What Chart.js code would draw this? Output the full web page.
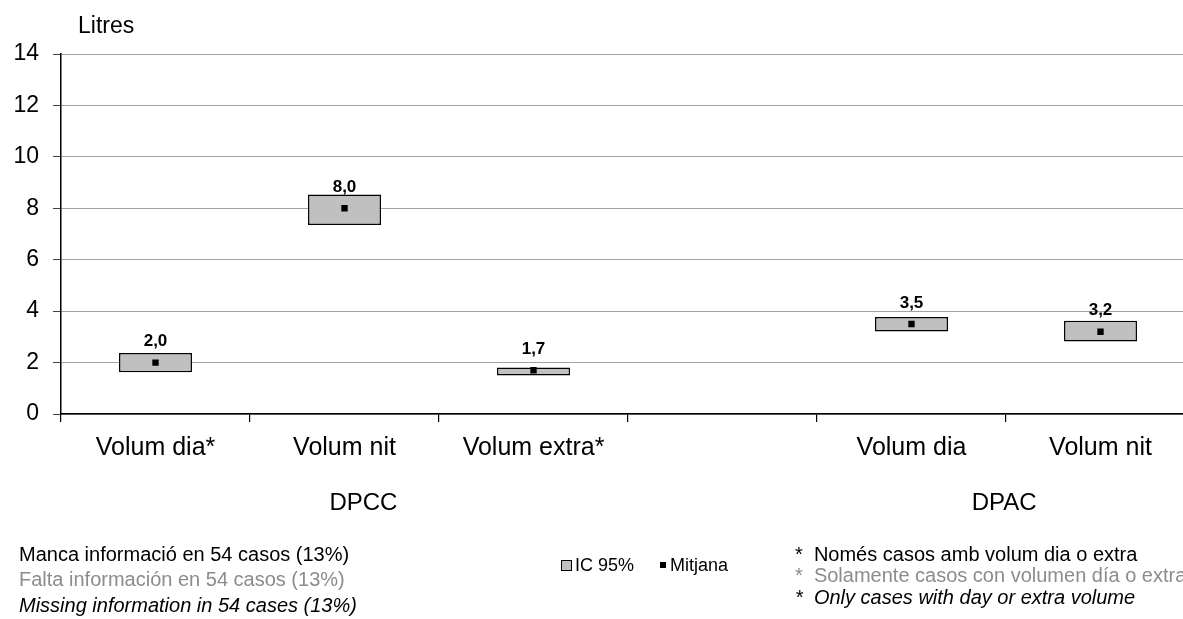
<!DOCTYPE html>
<html>
<head>
<meta charset="utf-8">
<script src="https://cdn.jsdelivr.net/npm/chart.js@4.4.1/dist/chart.umd.min.js"></script>
<style>
  html, body { margin: 0; padding: 0; background: #fff; overflow: hidden; }
  body { width: 1183px; height: 619px; position: relative; font-family: Arial, "Liberation Sans", sans-serif; }
  #wrap { position: absolute; left: 0; top: 0; width: 1200px; height: 619px; }
  .foot { position: absolute; font-size: 20px; white-space: nowrap; line-height: 22px; }
  .grey { color: #8c8c8c; }
  .it { font-style: italic; }
  .leg { font-size: 18px; }
  .icBox { display: inline-block; width: 9px; height: 9px; background: #c0c0c0; border: 1px solid #000; margin-right: 3px; vertical-align: 0px; }
  .meanBox { display: inline-block; width: 6px; height: 6px; background: #000; margin-right: 4px; vertical-align: 3px; }
</style>
</head>
<body>
<div id="wrap"><canvas id="chartCanvas" width="1200" height="619"></canvas></div>

<div class="foot" style="left:19px; top:543px;">Manca informació en 54 casos (13%)</div>
<div class="foot grey" style="left:19px; top:568px;">Falta información en 54 casos (13%)</div>
<div class="foot it" style="left:19px; top:594px;">Missing information in 54 cases (13%)</div>

<div class="foot leg" style="left:561px; top:554px;"><span class="icBox"></span>IC 95%</div>
<div class="foot leg" style="left:660px; top:554px;"><span class="meanBox"></span>Mitjana</div>

<div class="foot" style="left:795px; top:543px;">*&nbsp; Només casos amb volum dia o extra</div>
<div class="foot grey" style="left:795px; top:564px;">*&nbsp; Solamente casos con volumen día o extra</div>
<div class="foot it" style="left:795px; top:586px;">*&nbsp; Only cases with day or extra volume</div>

<script>
// Categories (4th slot is an empty gap between the two groups)
const categories = ['Volum dia*', 'Volum nit', 'Volum extra*', '', 'Volum dia', 'Volum nit'];

// Mean values and 95% confidence intervals (litres)
const means  = [2.0, 8.0, 1.7, null, 3.5, 3.2];
const ciLow  = [1.62, 7.35, 1.50, null, 3.21, 2.82];
const ciHigh = [2.37, 8.54, 1.81, null, 3.77, 3.63];

// Group labels and where they sit along the category axis
const groupNames = ['DPCC', 'DPAC'];
const groupPos = [1.1, 4.49];

const yTicks = [0, 2, 4, 6, 8, 10, 12, 14];

const FONT = 'Arial, "Liberation Sans", sans-serif';

// Draws "Litres", the value labels and the group names
const extraText = {
  id: 'extraText',
  afterDatasetsDraw(chart) {
    const ctx = chart.ctx;
    const x = chart.scales.x;
    const y = chart.scales.y;
    ctx.save();
    ctx.fillStyle = '#000';

    ctx.font = '23px ' + FONT;
    ctx.textAlign = 'left';
    ctx.textBaseline = 'middle';
    ctx.fillText('Litres', 78, 27);

    ctx.font = 'bold 17px ' + FONT;
    ctx.textAlign = 'center';
    ctx.textBaseline = 'middle';
    means.forEach((m, i) => {
      if (m === null) return;
      ctx.fillText(m.toFixed(1).replace('.', ','), x.getPixelForValue(i), y.getPixelForValue(m) - 21);
    });

    ctx.font = '24px ' + FONT;
    groupNames.forEach((g, i) => {
      ctx.fillText(g, x.getPixelForValue(groupPos[i]), 503);
    });
    ctx.restore();
  }
};

const ctx = document.getElementById('chartCanvas').getContext('2d');
new Chart(ctx, {
  data: {
    labels: categories,
    datasets: [
      {
        type: 'line',
        label: 'Mitjana',
        data: means,
        showLine: false,
        pointStyle: 'rect',
        pointRadius: 4.5,
        pointBorderWidth: 0,
        pointBackgroundColor: '#000',
        borderColor: '#000',
        order: 0
      },
      {
        type: 'bar',
        label: 'IC 95%',
        data: ciLow.map((lo, i) => lo === null ? null : [lo, ciHigh[i]]),
        backgroundColor: '#c0c0c0',
        borderColor: '#000',
        borderWidth: 1.5,
        borderSkipped: false,
        barPercentage: 0.386,
        categoryPercentage: 1,
        order: 1
      }
    ]
  },
  options: {
    responsive: false,
    animation: false,
    layout: { padding: { left: 0, right: 5, top: 54, bottom: 0 } },
    plugins: {
      legend: { display: false },
      tooltip: { enabled: false }
    },
    scales: {
      x: {
        type: 'category',
        offset: true,
        afterFit(scale) { scale.height = 205; },
        grid: {
          offset: true,
          drawOnChartArea: false,
          drawTicks: true,
          tickLength: 8,
          color: '#000',
          lineWidth: 1.2
        },
        border: { display: true, color: '#000', width: 1.5 },
        ticks: {
          color: '#000',
          font: { family: FONT, size: 25 },
          padding: 11,
          maxRotation: 0,
          autoSkip: false
        }
      },
      y: {
        min: 0,
        max: 14,
        afterFit(scale) { scale.width = 61; },
        afterBuildTicks(scale) { scale.ticks = yTicks.map(v => ({ value: v })); },
        grid: {
          color: '#444',
          lineWidth: 1,
          tickLength: 8,
          drawTicks: true
        },
        border: { display: true, color: '#000', width: 1.5, dash: [1, 1] },
        ticks: {
          color: '#000',
          font: { family: FONT, size: 23 },
          padding: 14
        }
      }
    }
  },
  plugins: [extraText]
});
</script>
</body>
</html>
